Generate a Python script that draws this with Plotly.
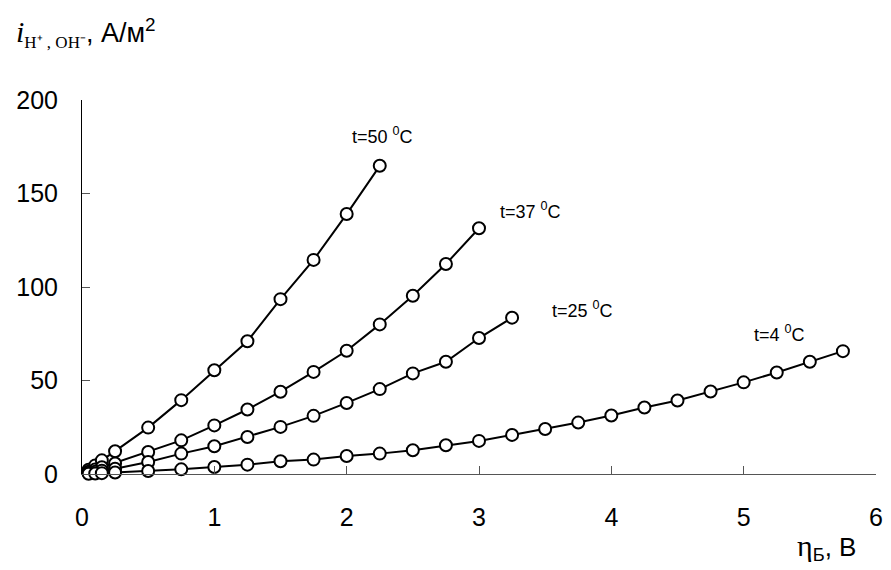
import plotly.graph_objects as go

# data
x50 = [0.05, 0.1, 0.15, 0.25, 0.5, 0.75, 1.0, 1.25, 1.5, 1.75, 2.0, 2.25]
y50 = [2.3, 4.6, 7.3, 12.2, 24.8, 39.5, 55.5, 71.0, 93.5, 114.5, 139.0, 164.8]

x37 = [0.05, 0.1, 0.15, 0.25, 0.5, 0.75, 1.0, 1.25, 1.5, 1.75, 2.0, 2.25, 2.5, 2.75, 3.0]
y37 = [1.2, 2.4, 3.6, 5.6, 11.8, 18.0, 26.0, 34.5, 44.0, 54.6, 65.9, 80.0, 95.3, 112.3, 131.4]

x25 = [0.05, 0.1, 0.15, 0.25, 0.5, 0.75, 1.0, 1.25, 1.5, 1.75, 2.0, 2.25, 2.5, 2.75, 3.0, 3.25]
y25 = [0.6, 1.2, 1.8, 2.8, 6.4, 10.9, 14.8, 19.8, 25.2, 31.1, 38.0, 45.4, 53.8, 60.0, 72.7, 83.6]

x4 = [0.05, 0.1, 0.15, 0.25, 0.5, 0.75, 1.0, 1.25, 1.5, 1.75, 2.0, 2.25, 2.5, 2.75,
      3.0, 3.25, 3.5, 3.75, 4.0, 4.25, 4.5, 4.75, 5.0, 5.25, 5.5, 5.75]
y4 = [0.15, 0.3, 0.45, 0.8, 1.6, 2.5, 3.75, 5.0, 6.8, 7.7, 9.6, 10.9, 12.7, 15.4,
      17.7, 20.9, 24.1, 27.5, 31.3, 35.6, 39.3, 44.1, 49.0, 54.3, 60.0, 65.7]

series = [(x50, y50), (x37, y37), (x25, y25), (x4, y4)]
labels = ["t=50 <sup>0</sup>C", "t=37 <sup>0</sup>C", "t=25 <sup>0</sup>C", "t=4 <sup>0</sup>C"]
label_pos = [(2.27, 181), (3.39, 141), (3.78, 88), (5.27, 75)]

xticks = [0, 1, 2, 3, 4, 5, 6]
yticks = [0, 50, 100, 150, 200]

SANS = "Liberation Sans, Arial"
fig = go.Figure()
for xs, ys in series:
    fig.add_trace(go.Scatter(
        x=xs, y=ys, mode="lines+markers",
        line=dict(color="black", width=2),
        marker=dict(symbol="circle", size=12, color="white",
                    line=dict(color="black", width=2)),
        cliponaxis=False, showlegend=False, hoverinfo="skip"))

for txt, (lx, ly) in zip(labels, label_pos):
    fig.add_annotation(x=lx, y=ly, xref="x", yref="y", text=txt, showarrow=False,
                       font=dict(family=SANS, size=18, color="black"))

# y-axis title
fig.add_annotation(
    x=0, y=1, xref="paper", yref="paper", xanchor="left", yanchor="top",
    xshift=-68, yshift=88,
    text=("<span style=\"font-family:'Liberation Serif';font-size:30px\"><i>i</i></span>"
          "<sub><span style=\"font-family:'Liberation Serif';font-size:17px\">H⁺ , OH⁻</span></sub>"
          ", А/м<sup>2</sup>"),
    showarrow=False, font=dict(family=SANS, size=27, color="black"))

# x-axis title
fig.add_annotation(
    x=1, y=0, xref="paper", yref="paper", xanchor="right", yanchor="middle",
    xshift=-18, yshift=-73,
    text=("<span style=\"font-family:'Liberation Serif';font-size:30px\">η</span>"
          "<sub>Б</sub>, В"),
    showarrow=False, font=dict(family=SANS, size=26, color="black"))

fig.update_xaxes(range=[0, 6], tickvals=xticks, ticks="inside", ticklen=8, tickwidth=1,
                 tickcolor="#555555", showline=True, linecolor="#555555", linewidth=1,
                 showgrid=False, zeroline=False, ticklabelstandoff=21,
                 tickfont=dict(family=SANS, size=25, color="black"))
fig.update_yaxes(range=[0, 200], tickvals=yticks, ticks="inside", ticklen=8, tickwidth=1,
                 tickcolor="#555555", showline=True, linecolor="black", linewidth=1,
                 showgrid=False, zeroline=False, ticklabelstandoff=18,
                 tickfont=dict(family=SANS, size=25, color="black"))

fig.update_layout(width=883, height=562, plot_bgcolor="white", paper_bgcolor="white",
                  margin=dict(l=73, r=8, t=92, b=96))

fig.write_html("out.html")
